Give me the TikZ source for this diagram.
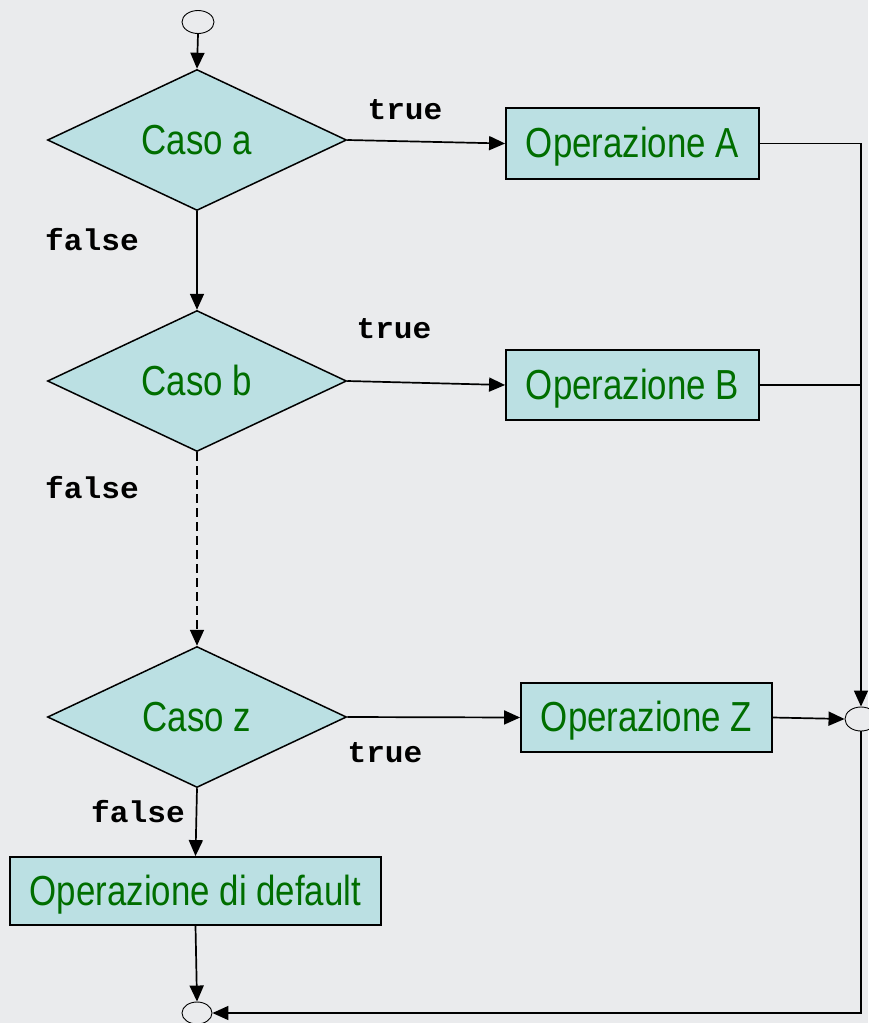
\documentclass[tikz,border=0pt]{standalone}
\usepackage{fontspec}
\usetikzlibrary{shapes.geometric,arrows.meta}
\newfontfamily\opfont[FakeStretch=0.83]{Liberation Sans}
\newfontfamily\lblfont[FakeStretch=1.04]{Liberation Mono}
\definecolor{bg}{RGB}{234,235,237}
\definecolor{boxfill}{RGB}{187,224,227}
\definecolor{optext}{RGB}{0,110,0}
\tikzset{
  x=1pt, y=-1pt,
  flow/.style={line width=1.7pt, draw=black},
  arr/.style={flow, -{Triangle[length=16pt,width=14pt]}},
  optextstyle/.style={text=optext, font=\opfont\fontsize{42}{48}\selectfont,
    text height=28pt, text depth=0pt},
  decision/.style={diamond, draw=black, line width=1.5pt, fill=boxfill,
    inner sep=0pt, minimum width=299pt, minimum height=141pt, aspect=2.12,
    optextstyle},
  opbox/.style={rectangle, draw=black, line width=1.8pt, fill=boxfill,
    inner sep=0pt, optextstyle},
  joint/.style={ellipse, draw=black, line width=0.9pt, fill=bg, inner sep=0pt},
  cond/.style={font=\lblfont\bfseries\fontsize{30}{34}\selectfont, text=black}
}
\begin{document}
\begin{tikzpicture}
\fill[bg] (0,0) rectangle (868,1023);
\useasboundingbox (0,0) rectangle (868,1023);

% decisions
\node[decision] (ca) at (197,140) {Caso a};
\node[decision] (cb) at (197,381) {Caso b};
\node[decision] (cz) at (197,717) {Caso z};

% operations
\node[opbox, minimum width=253pt, minimum height=71pt] (oa) at (632.5,143.5) {Operazione A};
\node[opbox, minimum width=253pt, minimum height=70pt] (ob) at (632.5,385) {Operazione B};
\node[opbox, minimum width=251pt, minimum height=69pt] (oz) at (646.5,717.5) {Operazione Z};
\node[opbox, minimum width=371pt, minimum height=68pt] (od) at (195.5,891) {Operazione di default};

% start, merge and end points
\node[joint, minimum width=32pt, minimum height=23pt] (start) at (198,22) {};
\node[joint, minimum width=32pt, minimum height=24pt] (merge) at (861,719) {};
\node[joint, minimum width=30pt, minimum height=22pt] (end) at (197,1013) {};

% condition labels
\node[cond] (ta) at (405,110) {true};
\node[cond] (tb) at (394,329) {true};
\node[cond] (tz) at (385,753) {true};
\node[cond] (fa) at (92,240) {false};
\node[cond] (fb) at (92,488) {false};
\node[cond] (fz) at (138,812) {false};

% connectors
\draw[arr] (start.south) -- (ca.north);
\draw[arr] (ca.east) -- (oa.west);
\draw[arr] (ca.south) -- (cb.north);
\draw[arr] (cb.east) -- (ob.west);
\draw[arr, dash pattern=on 9pt off 5pt] (cb.south) -- (cz.north);
\draw[arr] (cz.east) -- (oz.west);
\draw[arr] (cz.south) -- (od.north);
\draw[arr] (od.south) -- (end.north);

\draw[arr] (oa.east) -| (merge.north);
\draw[flow] (ob.east) -- (ob.east -| merge.north);
\draw[arr] (oz.east) -- (merge.west);
\draw[arr] (merge.south) |- (end.east);
\end{tikzpicture}
\end{document}
